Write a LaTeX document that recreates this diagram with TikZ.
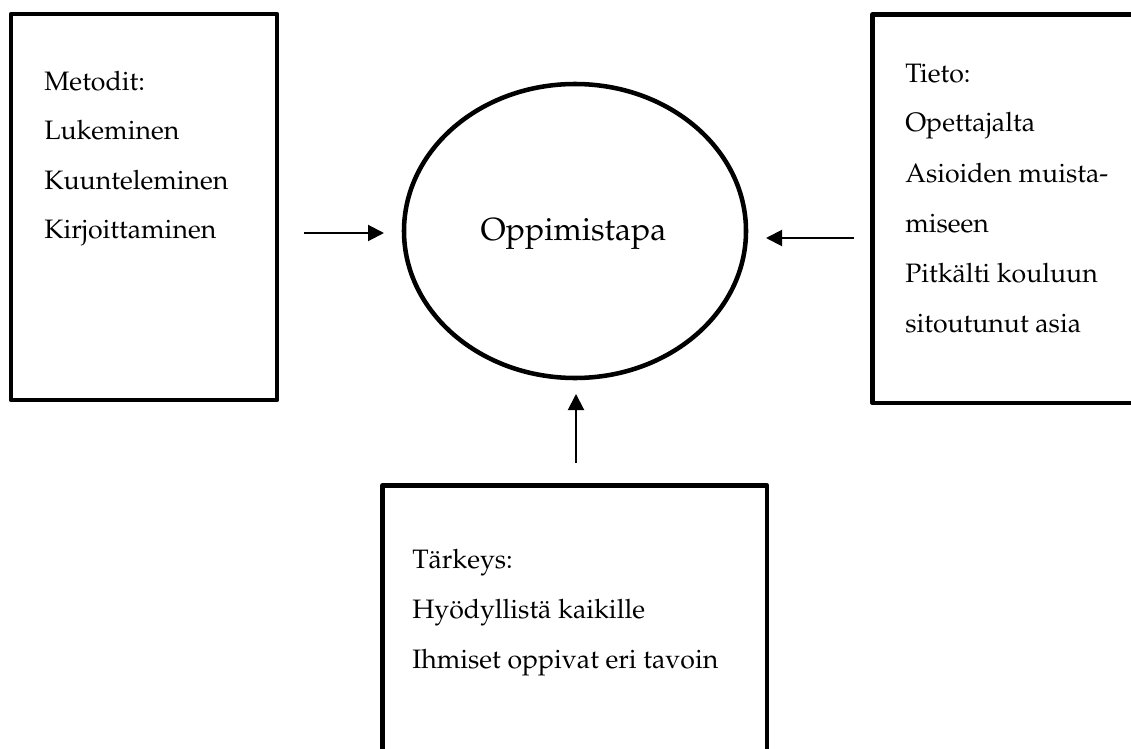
\documentclass[tikz,border=0pt]{standalone}
\usepackage[T1]{fontenc}
\renewcommand{\rmdefault}{ppl}
\usetikzlibrary{arrows.meta,shapes.geometric,fit}
\tikzset{
  box/.style={draw=black, line width=3.4pt, line join=round, inner sep=0pt, rectangle},
  oval/.style={draw=black, line width=3.4pt, ellipse, inner sep=0pt, minimum width=256.5pt, minimum height=220.5pt},
  txt/.style={anchor=base west, inner sep=0pt, font=\fontsize{20}{24}\selectfont},
  arr/.style={line width=1.5pt, -{Triangle[length=12pt,width=12pt]}}
}
\begin{document}
\begin{tikzpicture}[x=0.75pt,y=-0.75pt]
\useasboundingbox (0,0) rectangle (1131,749);
\clip (0,0) rectangle (1131,749);
% boxes
\node[box, fit={(11,14)(277,400)}] (L) {};
\node[box, fit={(872.5,14.5)(1145,403)}] (R) {};
\node[box, fit={(382.5,485.5)(767,770)}] (B) {};
% ellipse
\node[oval] (E) at (575,231) {};
\node[anchor=base, inner sep=0pt, font=\fontsize{24}{28}\selectfont] (Et) at (573.5,240) {Oppimistapa};
% left text
\node[txt] (l1) at (44,90.5) {Metodit:};
\node[txt] (l2) at (44,139.5) {Lukeminen};
\node[txt] (l3) at (44,189) {Kuunteleminen};
\node[txt] (l4) at (44,238.5) {Kirjoittaminen};
% right text
\node[txt] (r1) at (905,83) {Tieto:};
\node[txt] (r2) at (905,132) {Opettajalta};
\node[txt] (r3) at (905,182) {Asioiden muista-};
\node[txt] (r4) at (905,232) {miseen};
\node[txt] (r5) at (905,282) {Pitkälti kouluun};
\node[txt] (r6) at (905,332) {sitoutunut asia};
% bottom text
\node[txt] (b1) at (412,568) {Tärkeys:};
\node[txt] (b2) at (412,618) {Hyödyllistä kaikille};
\node[txt] (b3) at (412,668) {Ihmiset oppivat eri tavoin};
% arrows
\coordinate (a1s) at (304,233);
\coordinate (a1e) at (384,233);
\coordinate (a2s) at (854,238);
\coordinate (a2e) at (766,238);
\coordinate (a3s) at (576,463);
\coordinate (a3e) at (576,394);
\draw[arr] (a1s) -- (a1e);
\draw[arr] (a2s) -- (a2e);
\draw[arr] (a3s) -- (a3e);
\end{tikzpicture}
\end{document}
